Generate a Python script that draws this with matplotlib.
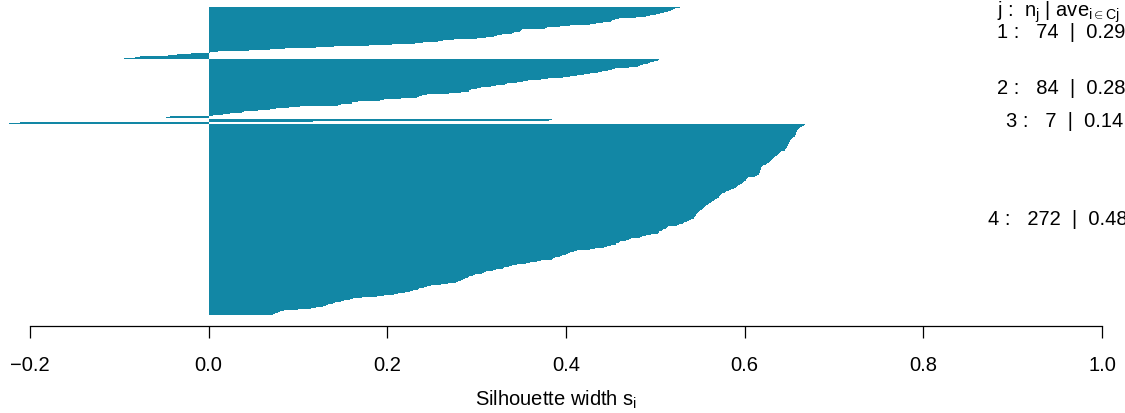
import matplotlib
matplotlib.use('Agg')
import matplotlib.pyplot as plt
import matplotlib.transforms as mtransforms
import numpy as np

plt.rcParams['font.family'] = ['Liberation Sans', 'DejaVu Sans']
plt.rcParams['mathtext.fontset'] = 'custom'
plt.rcParams['mathtext.rm'] = 'Liberation Sans'
plt.rcParams['mathtext.it'] = 'Liberation Sans:italic'
plt.rcParams['mathtext.bf'] = 'Liberation Sans:bold'

# ---------------- data (silhouette widths, top-to-bottom within each cluster) ----------------
cluster1 = [0.528, 0.526, 0.522, 0.520, 0.518, 0.516, 0.514, 0.510, 0.508, 0.505,
            0.501, 0.498, 0.494, 0.490, 0.478, 0.466, 0.459, 0.455, 0.452, 0.451,
            0.450, 0.447, 0.441, 0.434, 0.427, 0.412, 0.404, 0.393, 0.383, 0.379,
            0.376, 0.360, 0.351, 0.350, 0.348, 0.345, 0.342, 0.339, 0.333, 0.328,
            0.323, 0.319, 0.315, 0.311, 0.300, 0.290, 0.275, 0.262, 0.260, 0.257,
            0.240, 0.231, 0.220, 0.205, 0.180, 0.160, 0.140, 0.120, 0.100, 0.085,
            0.069, 0.045, 0.023, 0.010, 0.001, -0.017, -0.020, -0.035, -0.040, -0.045,
            -0.077, -0.082, -0.085, -0.095]

cluster2 = [0.504, 0.503, 0.499, 0.498, 0.494, 0.492, 0.490, 0.486, 0.483, 0.482,
            0.481, 0.470, 0.458, 0.455, 0.451, 0.447, 0.444, 0.440, 0.436, 0.431,
            0.427, 0.420, 0.417, 0.412, 0.405, 0.397, 0.388, 0.380, 0.372, 0.367,
            0.358, 0.352, 0.345, 0.339, 0.334, 0.332, 0.325, 0.322, 0.316, 0.313,
            0.305, 0.300, 0.294, 0.292, 0.291, 0.291, 0.290, 0.282, 0.269, 0.258,
            0.244, 0.239, 0.235, 0.234, 0.233, 0.215, 0.205, 0.196, 0.192, 0.170,
            0.167, 0.161, 0.160, 0.151, 0.148, 0.145, 0.120, 0.102, 0.090, 0.082,
            0.075, 0.069, 0.055, 0.049, 0.040, 0.037, 0.027, 0.024, 0.016, 0.005,
            -0.003, -0.043, -0.048, -0.050]

cluster3 = [0.387, 0.384, 0.381, 0.156, 0.117, -0.211, -0.223]

cluster4 = [0.668, 0.667, 0.666, 0.664, 0.663, 0.662, 0.661, 0.660, 0.660,
            0.659, 0.659, 0.658, 0.658, 0.658, 0.657, 0.657, 0.656, 0.656,
            0.655, 0.654, 0.653, 0.653, 0.652, 0.651, 0.651, 0.650,
            0.650, 0.650, 0.649, 0.649, 0.648, 0.648, 0.647, 0.647, 0.646,
            0.646, 0.645, 0.645, 0.643, 0.641, 0.639, 0.638, 0.638,
            0.637, 0.636, 0.635, 0.634, 0.633, 0.633, 0.632, 0.631, 0.630,
            0.629, 0.628, 0.627, 0.626, 0.625, 0.624, 0.622, 0.621,
            0.619, 0.619, 0.618, 0.618, 0.618, 0.618, 0.617, 0.617, 0.617,
            0.617, 0.616, 0.616, 0.615, 0.614, 0.612, 0.609,
            0.604, 0.603, 0.603, 0.602, 0.601, 0.599, 0.598, 0.598,
            0.597, 0.596, 0.595, 0.593, 0.592, 0.591, 0.590, 0.588, 0.587,
            0.585, 0.583, 0.580, 0.579, 0.578, 0.576, 0.575, 0.574,
            0.572, 0.572, 0.571, 0.571, 0.570, 0.569, 0.567, 0.566, 0.565,
            0.563, 0.562, 0.561, 0.560, 0.559, 0.558, 0.557, 0.556,
            0.555, 0.554, 0.553, 0.552, 0.551, 0.550, 0.549, 0.548, 0.548,
            0.547, 0.546, 0.545, 0.545, 0.544, 0.544, 0.543, 0.543,
            0.542, 0.540, 0.538, 0.535, 0.533, 0.532, 0.531, 0.528, 0.526,
            0.524, 0.520, 0.514, 0.513, 0.512, 0.511, 0.509, 0.507,
            0.505, 0.504, 0.504, 0.503, 0.500, 0.495, 0.490, 0.487, 0.485,
            0.483, 0.479, 0.473, 0.470, 0.467, 0.464, 0.461, 0.459,
            0.457, 0.456, 0.456, 0.455, 0.450, 0.446, 0.442, 0.437, 0.432,
            0.427, 0.420, 0.412, 0.409, 0.406, 0.404, 0.402, 0.400,
            0.399, 0.396, 0.393, 0.391, 0.388, 0.386, 0.384, 0.378, 0.372,
            0.367, 0.364, 0.360, 0.355, 0.350, 0.345, 0.340, 0.336,
            0.334, 0.331, 0.329, 0.328, 0.322, 0.318, 0.315, 0.311, 0.308,
            0.306, 0.302, 0.298, 0.296, 0.293, 0.291, 0.290, 0.288,
            0.287, 0.285, 0.283, 0.281, 0.279, 0.277, 0.274, 0.268, 0.260,
            0.254, 0.249, 0.244, 0.241, 0.238, 0.236, 0.234, 0.231,
            0.229, 0.225, 0.220, 0.216, 0.212, 0.208, 0.205, 0.196, 0.188,
            0.181, 0.172, 0.162, 0.158, 0.154, 0.151, 0.148, 0.145,
            0.141, 0.139, 0.136, 0.134, 0.131, 0.128, 0.125, 0.120, 0.115,
            0.110, 0.100, 0.084, 0.082, 0.080, 0.078, 0.074, 0.073, 0.072]

cluster_ids = [1, 2, 3, 4]
cluster_avg_labels = ['0.29', '0.28', '0.14', '0.48']
xticks = [-0.2, 0.0, 0.2, 0.4, 0.6, 0.8, 1.0]
xtick_labels = ['\u22120.2', '0.0', '0.2', '0.4', '0.6', '0.8', '1.0']
bar_color = '#1287a5'

clusters = [cluster1, cluster2, cluster3, cluster4]
sizes = [len(c) for c in clusters]
if sizes != [74, 84, 7, 272]:
    raise SystemExit('bad sizes %s' % sizes)

# ---------------- figure ----------------
W, H = 1125, 413
fig = plt.figure(figsize=(W / 100, H / 100), dpi=100)
axis_px = 326            # pixel row of the x-axis line
ax = fig.add_axes([0, (H - axis_px) / H, 1, axis_px / H])

gap = 0.5
y0 = 0.0
centers = []
for vals in clusters:
    pos = y0 + 0.5 + np.arange(len(vals))
    ax.barh(pos, vals, height=1.0, color=bar_color, linewidth=0, antialiased=False)
    centers.append(pos.mean())
    y0 += len(vals) + gap
total = y0 - gap

top_px, bot_px = 7, 315
scale = (bot_px - top_px) / total
ax.set_ylim((axis_px - top_px) / scale, -top_px / scale)

x_m2_px, x_1_px = 30, 1102
ppu = (x_1_px - x_m2_px) / 1.2
x_left = -0.2 - x_m2_px / ppu
x_right = 1.0 + (W - x_1_px) / ppu
ax.set_xlim(x_left, x_right)

for s in ['left', 'top', 'right']:
    ax.spines[s].set_visible(False)
ax.spines['bottom'].set_bounds(-0.2, 1.0)
ax.spines['bottom'].set_linewidth(0.9)
ax.set_yticks([])
ax.set_xticks(xticks)
ax.set_xticklabels(xtick_labels)
ax.tick_params(axis='x', direction='out', length=8.5, width=0.9, pad=13, labelsize=14.5)

ax.set_xlabel('Silhouette width s$_\\mathrm{i}$', fontsize=14.5)
ax.xaxis.label.set_va('baseline')
ax.xaxis.set_label_coords(556 / W, (axis_px - 406) / axis_px)

# header
ax.text(x_left + 997 / ppu, 1 - 17 / axis_px,
        'j :  n$_\\mathrm{j}$ | ave$_{\\mathrm{i\\in Cj}}$ s$_\\mathrm{i}$',
        transform=mtransforms.blended_transform_factory(ax.transData, ax.transAxes),
        ha='left', va='baseline', fontsize=14.5, clip_on=False)

labels = []
for cid, n, avg, yc in zip(cluster_ids, sizes, cluster_avg_labels, centers):
    t = ax.text(1.0, yc, '%d :   %d  |  %s' % (cid, n, avg), ha='left', va='center',
                fontsize=14.5, clip_on=False)
    labels.append(t)

fig.canvas.draw()
renderer = fig.canvas.get_renderer()
adj = 0.82
for t in labels:
    w = t.get_window_extent(renderer).width
    t.set_transform(ax.transData + mtransforms.ScaledTranslation(-adj * w / fig.dpi, 0, fig.dpi_scale_trans))

fig.savefig('out.png', dpi=100)
